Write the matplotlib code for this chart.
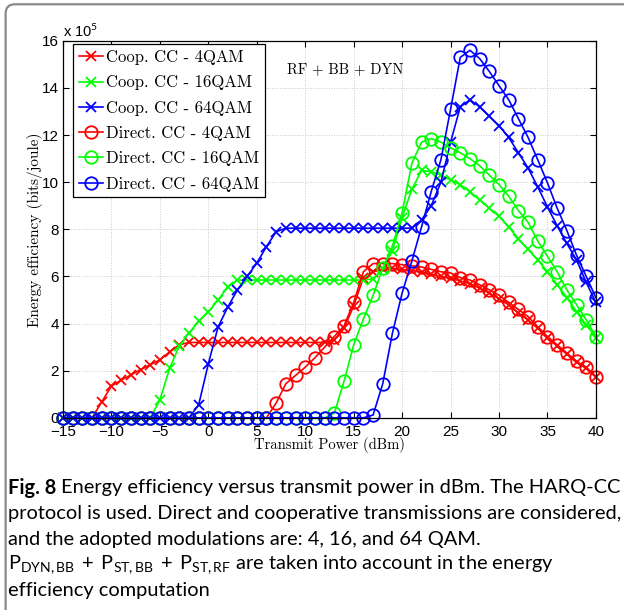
import numpy as np
import matplotlib
matplotlib.use("Agg")
import matplotlib.pyplot as plt
from matplotlib.patches import FancyBboxPatch

# transmit power in dBm (1 dB steps)
power_dbm = list(range(-15, 41))

# energy efficiency, in units of 1e5 bits/joule
coop_4qam = [0, 0, 0, 0, 0.68, 1.35, 1.6, 1.82, 2.05, 2.25, 2.46, 2.8, 3.1, 3.2,
             3.2, 3.2, 3.2, 3.2, 3.2, 3.2, 3.2, 3.2, 3.2, 3.2, 3.2, 3.2, 3.2, 3.2,
             3.3, 3.8, 4.75, 5.95, 6.2, 6.3, 6.35, 6.3, 6.25, 6.2, 6.1, 6.0, 5.95, 5.8,
             5.7, 5.5, 5.3, 5.05, 4.8, 4.45, 4.15, 3.8, 3.4, 3.05, 2.7, 2.35, 2.1, 1.72]
coop_16qam = [0, 0, 0, 0, 0, 0, 0, 0, 0, 0, 0.76, 2.1, 3.05, 3.6, 4.1, 4.5, 5.0, 5.55, 5.85,
              5.85, 5.85, 5.85, 5.85, 5.85, 5.85, 5.85, 5.85, 5.85, 5.85, 5.85, 5.85, 5.85,
              5.9, 6.3, 7.1, 8.5, 9.7, 10.5, 10.45, 10.3, 10.1, 9.9, 9.6, 9.25, 8.9, 8.55,
              8.1, 7.6, 7.15, 6.7, 6.2, 5.65, 5.1, 4.5, 3.95, 3.4]
coop_64qam = [0, 0, 0, 0, 0, 0, 0, 0, 0, 0, 0, 0, 0, 0, 0.55, 2.3, 3.85, 4.7, 5.43, 6.0,
              6.57, 7.27, 7.9, 8.05, 8.05, 8.05, 8.05, 8.05, 8.05, 8.05, 8.05, 8.05, 8.05,
              8.05, 8.05, 8.05, 8.05, 8.4, 9.0, 10.0, 11.7, 13.2, 13.5, 13.2, 12.8, 12.4,
              11.9, 11.25, 10.6, 9.8, 8.95, 8.15, 7.4, 6.7, 5.75, 4.9]
direct_4qam = [0, 0, 0, 0, 0, 0, 0, 0, 0, 0, 0, 0, 0, 0, 0, 0, 0, 0, 0, 0, 0, 0,
               0.63, 1.45, 1.8, 2.15, 2.55, 3.0, 3.45, 3.9, 4.9, 6.2, 6.55, 6.55, 6.55, 6.5,
               6.45, 6.4, 6.3, 6.2, 6.15, 5.95, 5.85, 5.65, 5.43, 5.2, 4.9, 4.6, 4.3, 3.87,
               3.45, 3.1, 2.75, 2.4, 2.15, 1.75]
direct_16qam = [0, 0, 0, 0, 0, 0, 0, 0, 0, 0, 0, 0, 0, 0, 0, 0, 0, 0, 0, 0, 0, 0, 0, 0,
                0, 0, 0, 0, 0.2, 1.55, 3.1, 4.2, 5.2, 6.35, 7.3, 8.7, 10.8, 11.7, 11.85, 11.7,
                11.46, 11.25, 11.0, 10.7, 10.3, 9.9, 9.4, 8.8, 8.3, 7.5, 6.85, 6.2, 5.43, 4.8,
                4.16, 3.45]
direct_64qam = [0, 0, 0, 0, 0, 0, 0, 0, 0, 0, 0, 0, 0, 0, 0, 0, 0, 0, 0, 0, 0, 0, 0, 0,
                0, 0, 0, 0, 0, 0, 0, 0, 0.12, 1.45, 3.6, 5.3, 6.65, 8.1, 9.6, 10.95, 13.1,
                15.3, 15.6, 15.25, 14.7, 14.1, 13.5, 12.7, 11.9, 10.95, 9.97, 8.9, 7.95, 6.9,
                6.0, 5.1]

series = [
    ("Coop. CC - 4QAM", coop_4qam, "#ff0000", "x"),
    ("Coop. CC - 16QAM", coop_16qam, "#00ff00", "x"),
    ("Coop. CC - 64QAM", coop_64qam, "#0000ff", "x"),
    ("Direct. CC - 4QAM", direct_4qam, "#ff0000", "o"),
    ("Direct. CC - 16QAM", direct_16qam, "#00ff00", "o"),
    ("Direct. CC - 64QAM", direct_64qam, "#0000ff", "o"),
]

plt.rcParams["mathtext.fontset"] = "custom"
plt.rcParams["mathtext.rm"] = "Lato"
plt.rcParams["mathtext.it"] = "Lato:italic"
plt.rcParams["mathtext.bf"] = "Lato:bold"

fig = plt.figure(figsize=(6.24, 6.10), dpi=100)

# rounded frame around the figure
frame = FancyBboxPatch((0.009, -0.05), 1.1, 1.043,
                       boxstyle="round,pad=0,rounding_size=0.015",
                       transform=fig.transFigure, fill=False,
                       ec="#8a8a8a", lw=1.6)
fig.patches.append(frame)

ax = fig.add_axes([0.101, 0.315, 0.854, 0.618])

for label, vals, c, m in series:
    if m == "x":
        ax.plot(power_dbm, vals, color=c, lw=1.2, marker="x", ms=7.5, mew=1.3,
                label=label, clip_on=False)
    else:
        ax.plot(power_dbm, vals, color=c, lw=1.2, marker="o", ms=9, mew=1.3,
                mfc="none", label=label, clip_on=False)

ax.set_xlim(-15, 40)
ax.set_ylim(0, 16)
ax.set_xticks(np.arange(-15, 41, 5))
ax.set_yticks(np.arange(0, 17, 2))
ax.tick_params(direction="in", top=True, right=True, length=4, width=0.8,
               labelsize=11)
ax.tick_params(axis="x", pad=5)
ax.tick_params(axis="y", pad=3)
for t in ax.get_xticklabels() + ax.get_yticklabels():
    t.set_fontfamily("Liberation Sans")
ax.grid(True, ls=":", color="#c8c8c8", lw=0.7)
for s in ax.spines.values():
    s.set_linewidth(0.9)

ax.text(0.0, 1.003, r"x 10$^{5}$", transform=ax.transAxes, fontsize=10.5,
        family="Liberation Sans", ha="left", va="bottom")

ax.set_xlabel("Transmit Power (dBm)", family="cmr10", fontsize=10.5, labelpad=-1)
ax.set_ylabel("Energy efficiency (bits/joule)", family="cmr10", fontsize=11,
              labelpad=-1)

ax.text(0.42, 0.925, "RF + BB + DYN", transform=ax.transAxes, family="cmr10",
        fontsize=10.5, ha="left", va="center")

leg = ax.legend(loc="upper left", bbox_to_anchor=(0.019, 0.992), borderaxespad=0,
                fancybox=False, framealpha=1, edgecolor="black",
                prop={"family": "cmr10", "size": 12}, handlelength=1.45,
                handletextpad=0.15, labelspacing=0.6, borderpad=0.35)
leg.get_frame().set_linewidth(0.9)

# caption
cap_fs = 14.4
cap_x = 0.013
y0 = 1 - 488 / 610
fig_lbl = fig.text(cap_x, y0, "Fig. 8", family="Lato", weight="bold",
                   fontsize=cap_fs, va="center")
fig.canvas.draw()
bb = fig_lbl.get_window_extent().transformed(fig.transFigure.inverted())
fig.text(bb.x1 + 0.008, y0,
         "Energy efficiency versus transmit power in dBm. The HARQ-CC",
         family="Lato", fontsize=cap_fs, va="center")
lines = [
    "protocol is used. Direct and cooperative transmissions are considered,",
    "and the adopted modulations are: 4, 16, and 64 QAM.",
    r"$\mathrm{P}_{\mathrm{DYN,BB}}\;+\;\mathrm{P}_{\mathrm{ST,BB}}\;+\;\mathrm{P}_{\mathrm{ST,RF}}$ are taken into account in the energy",
    "efficiency computation",
]
for i, ln in enumerate(lines):
    fig.text(cap_x, 1 - (514 + 25.5 * i) / 610, ln, family="Lato",
             fontsize=cap_fs, va="center")

fig.savefig("out.png", dpi=100)
